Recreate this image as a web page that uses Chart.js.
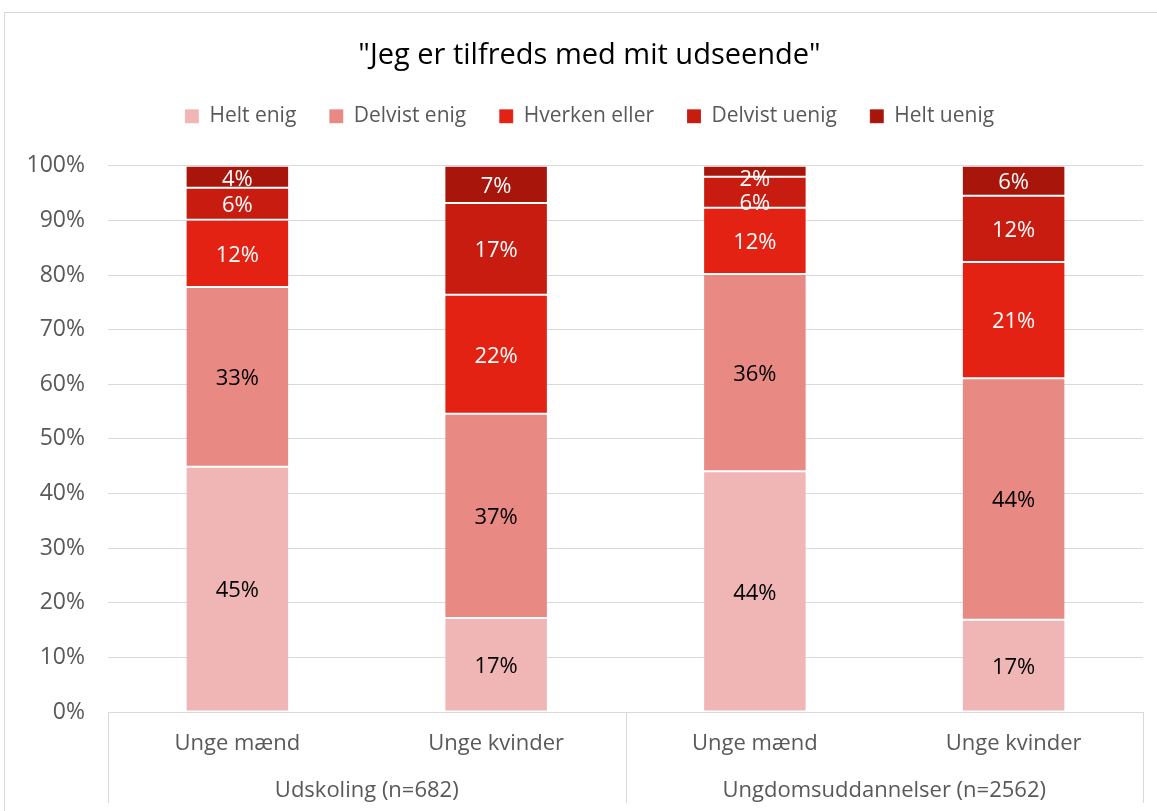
<!DOCTYPE html>
<html>
<head>
<meta charset="utf-8">
<script src="https://cdn.jsdelivr.net/npm/chart.js@4.4.1/dist/chart.umd.min.js"></script>
<style>
  body { margin: 0; background: #fff; }
  #wrap { position: relative; width: 1157px; height: 811px; }
  #frame { position: absolute; left: 4px; top: 12px; width: 1170px; height: 820px;
           border: 1px solid #d9d9d9; pointer-events: none; }
</style>
</head>
<body>
<div id="wrap">
  <canvas id="myChart" width="1157" height="811"></canvas>
  <div id="frame"></div>
</div>
<script>
// Chart data
var chartTitle = '"Jeg er tilfreds med mit udseende"';
var subLabels = ["Unge mænd", "Unge kvinder", "Unge mænd", "Unge kvinder"];
var groupLabels = ["Udskoling (n=682)", "Ungdomsuddannelser (n=2562)"];
var seriesNames = ["Helt enig", "Delvist enig", "Hverken eller", "Delvist uenig", "Helt uenig"];
var heltEnig = [44.9, 17.2, 44.1, 16.9];
var delvistEnig = [32.9, 37.4, 36.1, 44.2];
var hverkenEller = [12.3, 21.8, 12.1, 21.3];
var delvistUenig = [5.9, 16.8, 5.7, 12.1];
var heltUenig = [4.0, 6.8, 2.0, 5.5];
var yTicks = [0, 10, 20, 30, 40, 50, 60, 70, 80, 90, 100];

var colors = ["#f0b6b5", "#e98984", "#e32213", "#c81c10", "#a8150a"];
var labelColors = ["#000000", "#000000", "#ffffff", "#ffffff", "#ffffff"];
var fontFamily = "'Open Sans', 'Liberation Sans', sans-serif";

var allSeries = [heltEnig, delvistEnig, hverkenEller, delvistUenig, heltUenig];
var datasets = allSeries.map(function (vals, i) {
  return {
    label: seriesNames[i],
    data: vals,
    backgroundColor: colors[i],
    borderColor: "rgba(255,255,255,0.15)",
    borderWidth: 1,
    borderSkipped: false,
    xAxisID: "x",
    barPercentage: 0.4,
    categoryPercentage: 1
  };
});

// values written inside each segment (kept inside the plot, pushed down if they collide)
var segmentLabels = {
  id: "segmentLabels",
  afterDatasetsDraw: function (chart) {
    var ctx = chart.ctx;
    var top = chart.chartArea.top;
    ctx.save();
    ctx.font = "22px " + fontFamily;
    ctx.textAlign = "center";
    ctx.textBaseline = "middle";
    var n = chart.data.labels.length;
    for (var j = 0; j < n; j++) {
      var prev = top - 12;
      for (var i = chart.data.datasets.length - 1; i >= 0; i--) {
        var bar = chart.getDatasetMeta(i).data[j];
        var y = Math.max((bar.y + bar.base) / 2, prev + 24);
        prev = y;
        ctx.fillStyle = labelColors[i];
        ctx.fillText(Math.round(chart.data.datasets[i].data[j]) + "%", bar.x, y + 2);
      }
    }
    ctx.restore();
  }
};

// extra room under the legend, and title + legend centred on the whole frame
var legendSpace = {
  id: "legendSpace",
  beforeInit: function (chart) {
    var fit = chart.legend.fit;
    chart.legend.fit = function () {
      fit.bind(chart.legend)();
      this.height += 29;
    };
  },
  afterLayout: function (chart) {
    chart.titleBlock.left += 36;
    chart.legend.left += 36;
  }
};

// two level category lines under the plot
var groupLines = {
  id: "groupLines",
  afterDraw: function (chart) {
    var ctx = chart.ctx;
    var area = chart.chartArea;
    var x = chart.scales.x;
    var g = chart.scales.group;
    ctx.save();
    ctx.strokeStyle = "#d9d9d9";
    ctx.lineWidth = 1;
    ctx.beginPath();
    ctx.moveTo(area.left, area.bottom + 0.5);
    ctx.lineTo(area.right, area.bottom + 0.5);
    [area.left, x.getPixelForValue(1.5), area.right].forEach(function (px) {
      px = Math.round(px) + 0.5;
      ctx.moveTo(px, area.bottom);
      ctx.lineTo(px, g.bottom);
    });
    ctx.stroke();
    ctx.restore();
  }
};

var myChart = new Chart(document.getElementById("myChart").getContext("2d"), {
  type: "bar",
  data: { labels: subLabels, datasets: datasets },
  options: {
    responsive: false,
    animation: false,
    layout: { padding: { left: 0, right: 14, top: 0, bottom: 8 } },
    plugins: {
      title: {
        display: true,
        text: chartTitle,
        color: "#000000",
        font: { family: fontFamily, size: 29, weight: "normal" },
        padding: { top: 38, bottom: 0 }
      },
      legend: {
        position: "top",
        labels: {
          color: "#595959",
          font: { family: fontFamily, size: 21 },
          boxWidth: 14,
          boxHeight: 14,
          padding: 33
        }
      },
      tooltip: { enabled: false }
    },
    scales: {
      x: {
        stacked: true,
        afterFit: function (scale) { scale.height = 45; },
        grid: { display: false, drawTicks: false },
        border: { display: false },
        ticks: { color: "#595959", font: { family: fontFamily, size: 22 }, padding: 19 }
      },
      group: {
        type: "category",
        position: "bottom",
        labels: groupLabels,
        afterFit: function (scale) { scale.height = 46; },
        grid: { display: false, drawTicks: false },
        border: { display: false },
        ticks: { color: "#595959", font: { family: fontFamily, size: 22 }, padding: 21 }
      },
      y: {
        stacked: true,
        min: 0,
        max: 100,
        afterFit: function (scale) { scale.width = 108; },
        afterBuildTicks: function (scale) {
          scale.ticks = yTicks.map(function (v) { return { value: v }; });
        },
        grid: { color: "#d9d9d9", drawTicks: false },
        border: { display: false },
        ticks: {
          color: "#595959",
          font: { family: fontFamily, size: 23 },
          padding: 23,
          callback: function (v) { return v + "%"; }
        }
      }
    }
  },
  plugins: [legendSpace, segmentLabels, groupLines]
});
</script>
</body>
</html>
